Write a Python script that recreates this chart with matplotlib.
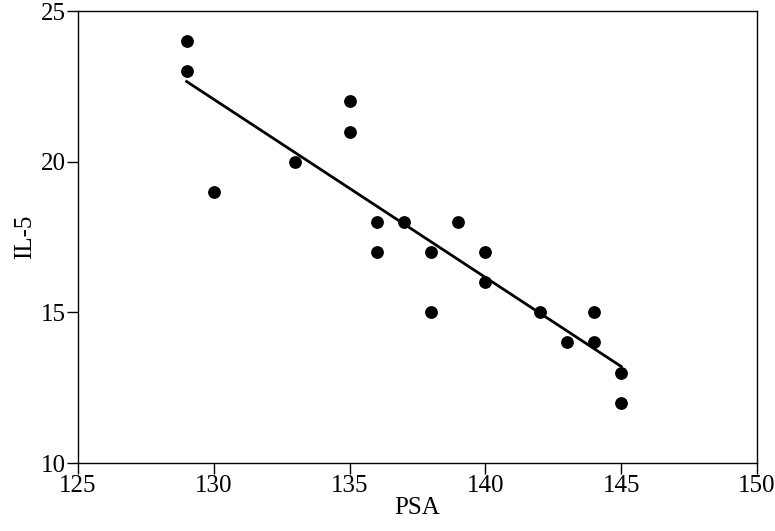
import numpy as np
import matplotlib
matplotlib.use("Agg")
import matplotlib.pyplot as plt

plt.rcParams['font.family'] = ['Liberation Serif', 'DejaVu Serif']

# Valeurs
psa = [129, 129, 130, 133, 135, 135, 136, 136, 137, 138,
       138, 139, 140, 140, 142, 143, 144, 144, 145, 145]
il5 = [24, 23, 19, 20, 22, 21, 18, 17, 18, 17,
       15, 18, 17, 16, 15, 14, 15, 14, 13, 12]
x_ticks = [125, 130, 135, 140, 145, 150]
y_ticks = [10, 15, 20, 25]

fig = plt.figure(figsize=(7.75, 5.31), dpi=100)
ax = fig.add_axes([78 / 775, 1 - 463 / 531, (757 - 78) / 775, (463 - 11) / 531])

ax.scatter(psa, il5, s=85, color='black', zorder=3, linewidths=0)

# Droite de régression
slope, intercept = np.polyfit(psa, il5, 1)
xs = np.array([min(psa), max(psa)])
ax.plot(xs, slope * xs + intercept, color='black', linewidth=2.0)

ax.set_xlim(125, 150)
ax.set_ylim(10, 25)
ax.set_xticks(x_ticks)
ax.set_yticks(y_ticks)
ax.tick_params(direction='out', length=8, width=1, labelsize=18, pad=1)
for sp in ax.spines.values():
    sp.set_linewidth(1)

ax.set_xlabel("PSA", fontsize=18, labelpad=0)
ax.set_ylabel("IL-5", fontsize=18, labelpad=3)

fig.savefig("out.png", dpi=100)
